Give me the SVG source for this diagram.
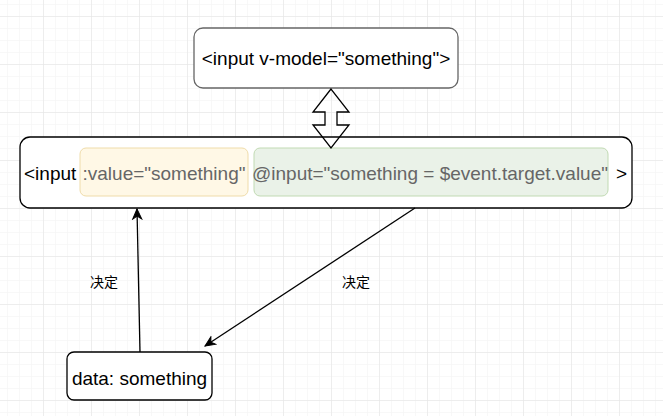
<svg xmlns="http://www.w3.org/2000/svg" width="663" height="416" viewBox="0 0 663 416">
<defs>
<pattern id="minor" x="7" y="4" width="12" height="12" patternUnits="userSpaceOnUse">
<path d="M0,0 H12 M0,0 V12" fill="none" stroke="#f2f2f2" stroke-width="1"/>
</pattern>
<pattern id="major" x="43" y="16" width="48" height="48" patternUnits="userSpaceOnUse">
<path d="M0,0 H48 M0,0 V48" fill="none" stroke="#e2e2e2" stroke-width="1"/>
</pattern>
<marker id="arr" viewBox="-11 -6 12 12" refX="0" refY="0" markerWidth="12" markerHeight="12" markerUnits="userSpaceOnUse" orient="auto">
<path d="M0,0 L-10,-4.5 L-7,0 L-10,4.5 Z" fill="#000" stroke="#000" stroke-width="1"/>
</marker>
</defs>
<style>
text{font-family:"Liberation Sans",Arial,"Noto Sans CJK SC",sans-serif;font-size:19px;fill:#000}
.lbl{font-size:14px}
.gray{fill:#666}
.conn{fill:none;stroke:#000;stroke-width:1.3}
</style>
<rect x="0" y="0" width="663" height="416" fill="#fff"/>
<rect x="0" y="0" width="663" height="416" fill="url(#minor)"/>
<rect x="0" y="0" width="663" height="416" fill="url(#major)"/>

<g id="vmodel">
<rect x="194" y="28" width="264" height="60" rx="9" fill="#fff" stroke="#666" stroke-width="1.3"/>
<text x="326" y="65" text-anchor="middle">&lt;input v-model="something"&gt;</text>
</g>

<g id="input">
<rect x="20" y="137" width="612" height="71" rx="10" fill="#fff" stroke="#000" stroke-width="1.3"/>
<rect x="80" y="148" width="168" height="48" rx="6" fill="#fff8e6" stroke="#efdcaa" stroke-width="1"/>
<rect x="254" y="148" width="354" height="48" rx="6" fill="#eaf2e8" stroke="#c1dab3" stroke-width="1"/>
<text y="180"><tspan x="24">&lt;input</tspan><tspan x="82.5" class="gray">:value="something"</tspan><tspan x="252" class="gray">@input="something = $event.target.value"</tspan><tspan x="616">&gt;</tspan></text>
</g>

<g id="dblarrow">
<polygon points="331,89 313,112 325,112 325,125 313,125 331,148 349,125 337,125 337,112 349,112" fill="none" stroke="#000" stroke-width="1.3"/>
</g>

<g id="data">
<rect x="67" y="352" width="145" height="48" rx="7" fill="#fff" stroke="#000" stroke-width="1.3"/>
<text x="139.5" y="385" text-anchor="middle">data: something</text>
</g>

<g id="connectors">
<line class="conn" x1="140" y1="352" x2="137" y2="209" marker-end="url(#arr)"/>
<line class="conn" x1="415" y1="208" x2="205" y2="346" marker-end="url(#arr)"/>
<text class="lbl" x="90" y="287">决定</text>
<text class="lbl" x="342" y="287">决定</text>
</g>
</svg>
